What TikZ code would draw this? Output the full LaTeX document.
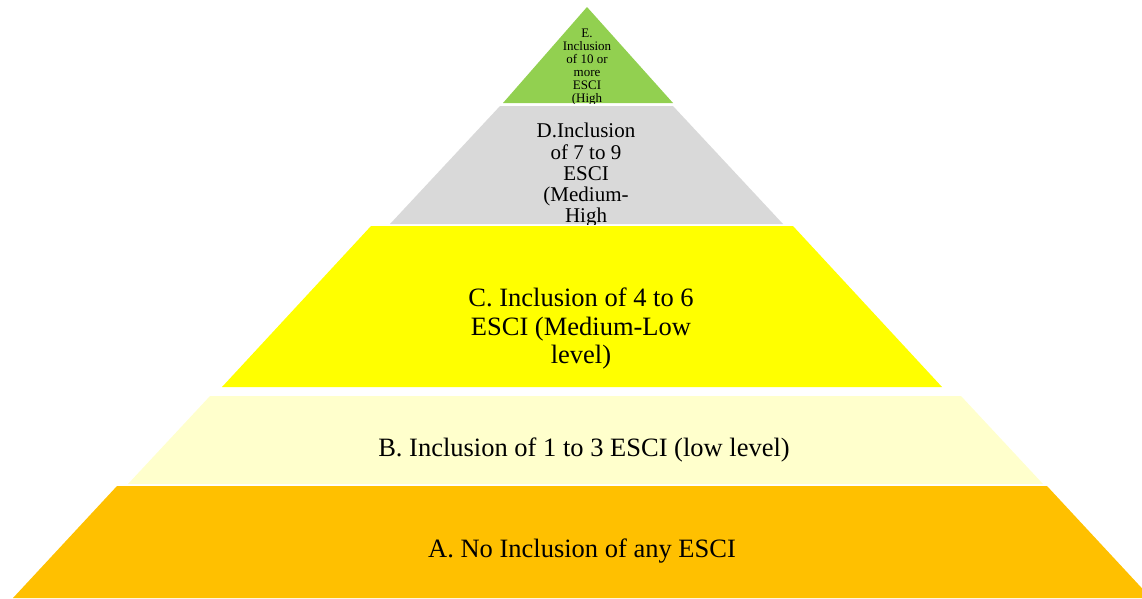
\documentclass[tikz,border=0pt]{standalone}
\usepackage{fontspec}
\setmainfont{Liberation Serif}
\usetikzlibrary{positioning}
\definecolor{layerA}{RGB}{255,192,0}
\definecolor{layerB}{RGB}{255,255,204}
\definecolor{layerC}{RGB}{255,255,0}
\definecolor{layerD}{RGB}{217,217,217}
\definecolor{layerE}{RGB}{146,208,80}

\begin{document}
\begin{tikzpicture}[x=1pt, y=-1pt,
    lvltext/.style={align=center, inner sep=0pt, text=black},
    bigtext/.style={lvltext, font=\fontsize{26.5}{28.5}\selectfont},
    midtext/.style={lvltext, font=\fontsize{21}{21.3}\selectfont},
    smalltext/.style={lvltext, font=\fontsize{13}{13}\selectfont}
]
\useasboundingbox (0,0) rectangle (1142,598);
\clip (0,0) rectangle (1142,598);

% A
\fill[layerA] (13,598) -- (117,486) -- (1047,486) -- (1151,598) -- cycle;
\node[bigtext, anchor=base] (lvlA) at (582,557) {A. No Inclusion of any ESCI};

% B
\fill[layerB] (128,484) -- (210,396) -- (961,396) -- (1043,484) -- cycle;
\node[bigtext, anchor=base] (lvlB) at (584,456) {B. Inclusion of 1 to 3 ESCI (low level)};

% C
\fill[layerC] (222,387) -- (371,226) -- (793,226) -- (942,387) -- cycle;
\node[bigtext, anchor=north] (lvlC) at (581,288) {C. Inclusion of 4 to 6\\ESCI (Medium-Low\\level)};

% D, text runs past the bottom edge
\begin{scope}
\fill[layerD] (390,224) -- (500,106) -- (673,106) -- (783,224) -- cycle;
\clip (390,224) -- (500,106) -- (673,106) -- (783,224) -- cycle;
\node[midtext, anchor=north] (lvlD) at (586,123)
    {D.Inclusion\\of 7 to 9\\ESCI\\(Medium-\\High\\level)};
\end{scope}

% E
\begin{scope}
\fill[layerE] (503,103) -- (587,7) -- (673,103) -- cycle;
\clip (503,103) -- (587,7) -- (673,103) -- cycle;
\node[smalltext, anchor=north] (lvlE) at (587,28.7)
    {E.\\Inclusion\\of 10 or\\more\\ESCI\\(High\\level)};
\end{scope}
\end{tikzpicture}
\end{document}
